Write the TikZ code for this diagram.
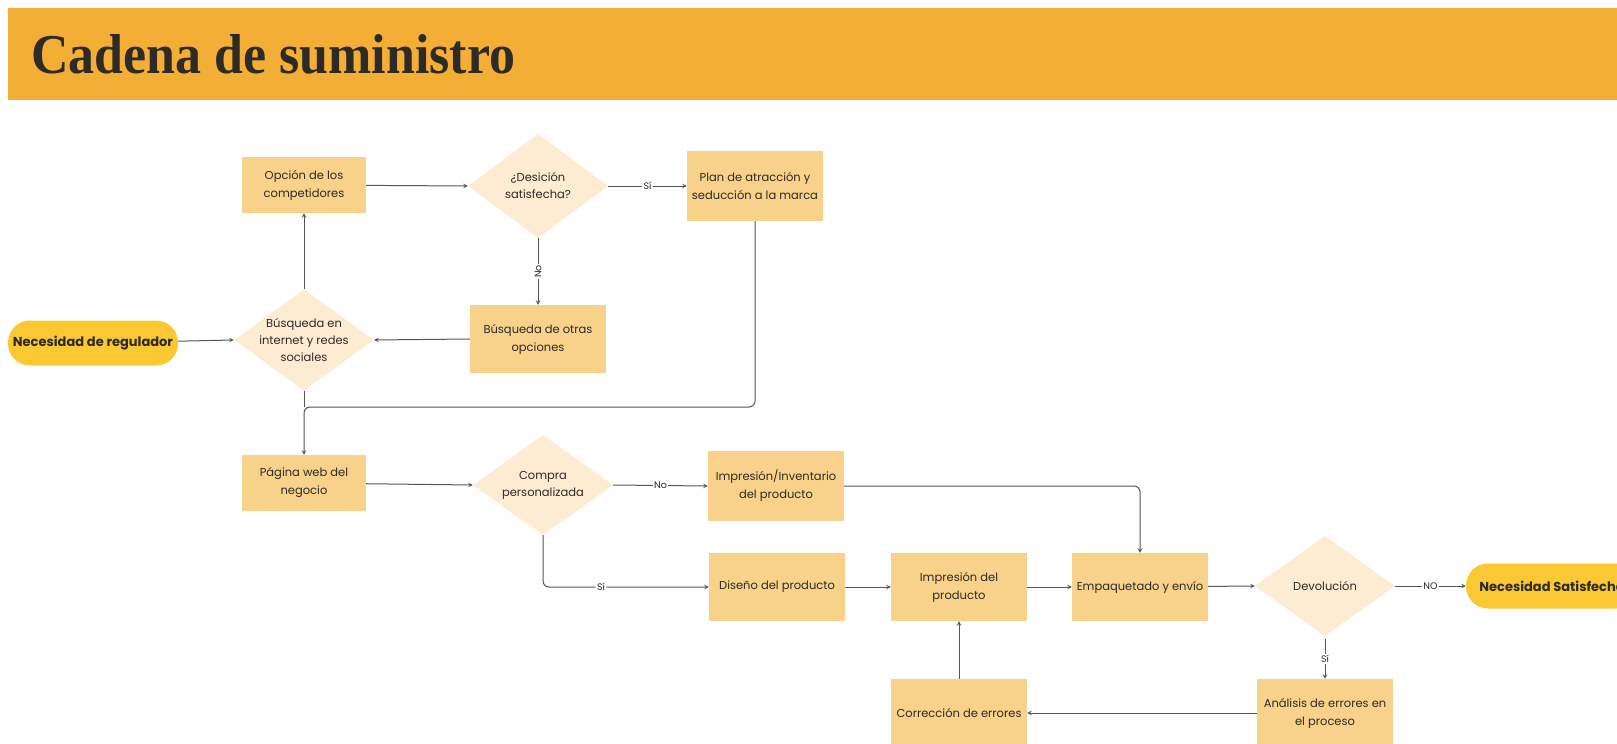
\documentclass[tikz,border=0pt]{standalone}
\usepackage{fontspec}
\setmainfont{Poppins}
\newfontfamily\titlefont{Liberation Serif}
\usetikzlibrary{shapes.geometric}
\definecolor{banner}{HTML}{F3AE36}
\definecolor{boxfill}{HTML}{F8D28A}
\definecolor{decfill}{HTML}{FDEBD2}
\definecolor{termfill}{HTML}{F9C832}
\definecolor{wire}{HTML}{555555}
\definecolor{ink}{HTML}{2E2A25}

\begin{document}
\begin{tikzpicture}[x=1pt, y=-1pt,
  box/.style = {fill=boxfill, minimum width=136pt, minimum height=68pt, align=center, text=ink, font=\fontsize{11.5}{18}\selectfont},
  dec/.style = {diamond, fill=decfill, minimum width=140pt, minimum height=100pt, inner sep=-20pt, aspect=1.4, align=center, text=ink, font=\fontsize{11.5}{17}\selectfont},
  term/.style = {fill=termfill, rounded corners=22pt, minimum height=45pt, text=ink, font=\fontsize{13}{15}\selectfont\bfseries},
  lbl/.style = {fill=white, inner sep=1.5pt, text=ink, font=\fontsize{9.5}{10}\selectfont},
  link/.style = {draw=wire, line width=1pt, ->},
  >=stealth]
  \useasboundingbox (0,0) rectangle (1617,744);
  \clip (0,0) rectangle (1617,744);

  % cabecera
  \fill[banner] (8,8) rectangle (1617,100);
  \node[anchor=base west, inner sep=0pt, text=ink] (t) at (31,73) {\resizebox{484pt}{39pt}{\titlefont\bfseries Cadena de suministro}};

  % parte superior
  \node[term, minimum width=170pt] (1) at (93,343) {Necesidad de regulador};
  \node[dec, minimum height=101pt] (2) at (304,340) {Búsqueda en\\internet y redes\\sociales};
  \node[box, minimum width=124pt, minimum height=56pt] (3) at (304,185) {Opción de los\\competidores};
  \node[dec, minimum height=104pt] (4) at (538,186) {¿Desición\\satisfecha?};
  \node[box, minimum height=70pt] (5) at (755,186) {Plan de atracción y\\seducción a la marca};
  \node[box] (6) at (538,339) {Búsqueda de otras\\opciones};
  \coordinate (j) at (304,407);

  % parte inferior
  \node[box, minimum width=124pt, minimum height=56pt] (7) at (304,483) {Página web del\\negocio};
  \node[dec] (8) at (543,485) {Compra\\personalizada};
  \node[box, minimum height=70pt] (9) at (776,486) {Impresión/Inventario\\del producto};
  \node[box] (10) at (777,587) {Diseño del producto};
  \node[box] (11) at (959,587) {Impresión del\\producto};
  \node[box] (12) at (1140,587) {Empaquetado y envío};
  \node[dec] (13) at (1325,586) {Devolución};
  \node[term, minimum width=172pt] (14) at (1552,586) {Necesidad Satisfecha};
  \node[box] (15) at (1325,713) {Análisis de errores en\\el proceso};
  \node[box] (16) at (959,713) {Corrección de errores};

  \draw[link] (1) -- (2.west);
  \draw[link] (2.north) -- (3.south);
  \draw[link] (3) -- (4.west);
  \draw[link] (4.east) -- node[lbl]{Sí} (5.west);
  \draw[link] (4.south) -- node[lbl, rotate=90]{No} (6.north);
  \draw[link] (6.west) -- (2.east);
  \draw[link, -] (2.south) -- (j);
  \draw[link, rounded corners=6pt] (5.south) |- (j) -- (7.north);
  \draw[link] (7) -- (8.west);
  \draw[link] (8.east) -- node[lbl]{No} (9.west);
  \draw[link, rounded corners=6pt] (8.south) |- node[lbl, pos=0.675]{Sí} (10.west);
  \draw[link, rounded corners=6pt] (9.east) -| (12.north);
  \draw[link] (10) -- (11);
  \draw[link] (11) -- (12);
  \draw[link] (12) -- (13.west);
  \draw[link] (13.east) -- node[lbl]{NO} (14.west);
  \draw[link] ([yshift=-3pt]13.south) -- node[lbl]{Sí} (15.north);
  \draw[link] (15.west) -- (16.east);
  \draw[link] (16.north) -- (11.south);
\end{tikzpicture}
\end{document}
